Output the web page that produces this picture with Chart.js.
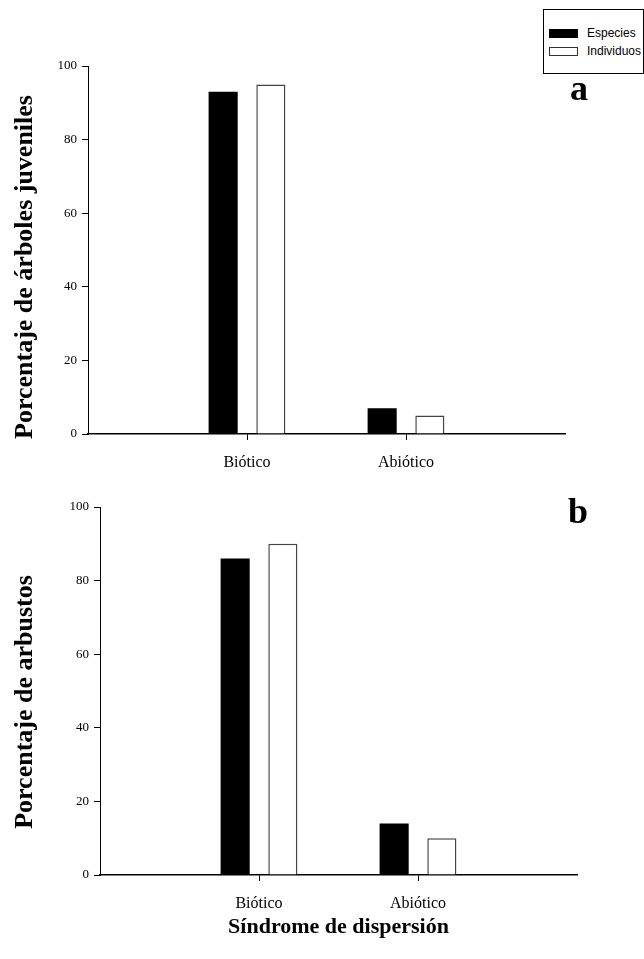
<!DOCTYPE html>
<html>

<head>
    <title>Síndrome de dispersión</title>
    <script src="https://cdn.jsdelivr.net/npm/chart.js@4.4.0/dist/chart.umd.min.js"></script>
    <style>
        body { margin: 0; background: #fff; }
        #page { position: relative; width: 644px; height: 959px; overflow: hidden; }
        canvas { position: absolute; left: 0; }
        #legend {
            position: absolute; left: 543px; top: 9px; width: 99px; height: 63px;
            border: 1px solid #000; background: #fff;
            font-family: "Liberation Sans", Arial, sans-serif; font-size: 12px; color: #000;
        }
        #legend .item { position: absolute; left: 5px; height: 14px; line-height: 14px; white-space: nowrap; }
        #legend .swatch { display: inline-block; width: 29px; height: 9px; vertical-align: middle; margin-right: 9px; box-sizing: border-box; border: 1px solid #333; }
    </style>
    <script>
        // categories and values (%)
        var categories = ['Biótico', 'Abiótico'];
        var seriesNames = ['Especies', 'Individuos'];
        var seriesFill = ['#000', '#fff'];
        var arbolesEspecies = [93, 7];
        var arbolesIndividuos = [95, 5];
        var arbustosEspecies = [86, 14];
        var arbustosIndividuos = [90, 10];
        var yMax = 100;
        var yStep = 20;

        var serif = '"Liberation Serif", "Times New Roman", serif';

        // empty categories at both ends keep the two groups at 1/3 and 2/3 of the axis
        function padded(values) {
            return [null].concat(values, [null]);
        }

        // panel letter and rotated y title, drawn at fixed spots on the canvas
        function decorations(opts) {
            return {
                id: 'decorations',
                afterDraw: function (chart) {
                    var ctx = chart.ctx;
                    ctx.save();
                    ctx.fillStyle = '#000';
                    ctx.font = 'bold 36px ' + serif;
                    ctx.textBaseline = 'alphabetic';
                    ctx.fillText(opts.letter, opts.letterX, opts.letterY);

                    ctx.translate(opts.yTitleX, opts.yTitleY);
                    ctx.rotate(-Math.PI / 2);
                    ctx.font = 'bold 26px ' + serif;
                    ctx.textAlign = 'center';
                    ctx.textBaseline = 'middle';
                    ctx.fillText(opts.yTitle, 0, 0);
                    ctx.restore();
                }
            };
        }

        function makeChart(id, especies, individuos, opts) {
            var xScale = {
                type: 'category',
                offset: false,
                grid: {
                    offset: false,
                    drawOnChartArea: false,
                    tickLength: 6,
                    color: function (ctx) {
                        return (ctx.index === 1 || ctx.index === 2) ? '#000' : 'rgba(0,0,0,0)';
                    }
                },
                border: { color: '#000', width: 1.5 },
                ticks: { color: '#000', font: { family: serif, size: 16 }, padding: 13, maxRotation: 0, autoSkip: false },
                afterFit: function (scale) { scale.height = opts.xHeight; }
            };
            if (opts.xTitle) {
                xScale.title = {
                    display: true, text: opts.xTitle, color: '#000',
                    font: { family: serif, size: 22, weight: 'bold' },
                    padding: { top: 0, bottom: opts.xTitlePad }
                };
            }
            return new Chart(document.getElementById(id).getContext('2d'), {
                type: 'bar',
                data: {
                    labels: [''].concat(categories, ['']),
                    datasets: [{
                        label: seriesNames[0],
                        data: padded(especies),
                        backgroundColor: seriesFill[0],
                        borderWidth: 0
                    }, {
                        label: seriesNames[1],
                        data: padded(individuos),
                        backgroundColor: seriesFill[1],
                        borderColor: '#444',
                        borderWidth: 1.5
                    }]
                },
                options: {
                    responsive: false,
                    animation: false,
                    categoryPercentage: 0.6,
                    barPercentage: 0.61,
                    layout: { padding: opts.padding },
                    plugins: { legend: { display: false }, tooltip: { enabled: false } },
                    scales: {
                        x: xScale,
                        y: {
                            min: 0, max: yMax,
                            ticks: { stepSize: yStep, color: '#000', font: { family: serif, size: 13 }, padding: 5 },
                            grid: { drawOnChartArea: false, tickLength: 6, color: '#000' },
                            border: { color: '#000', width: 1 },
                            afterFit: function (scale) { scale.width = opts.yWidth; }
                        }
                    }
                },
                plugins: [decorations(opts)]
            });
        }

        window.addEventListener('load', function () {
            makeChart('arboles', arbolesEspecies, arbolesIndividuos, {
                yTitle: 'Porcentaje de árboles juveniles', yTitleX: 25, yTitleY: 267,
                padding: { top: 66, right: 79, bottom: 0, left: 0 },
                yWidth: 88, xHeight: 46,
                letter: 'a', letterX: 570, letterY: 100
            });
            makeChart('arbustos', arbustosEspecies, arbustosIndividuos, {
                yTitle: 'Porcentaje de arbustos', yTitleX: 25, yTitleY: 222,
                xTitle: 'Síndrome de dispersión', xTitlePad: 18,
                padding: { top: 27, right: 67, bottom: 0, left: 0 },
                yWidth: 100, xHeight: 84,
                letter: 'b', letterX: 568, letterY: 43
            });

            var legend = document.getElementById('legend');
            seriesNames.forEach(function (name, i) {
                var item = document.createElement('div');
                item.className = 'item';
                item.style.top = (16 + i * 18) + 'px';
                var sw = document.createElement('span');
                sw.className = 'swatch';
                sw.style.background = seriesFill[i];
                if (i === 0) sw.style.borderColor = '#000';
                item.appendChild(sw);
                item.appendChild(document.createTextNode(name));
                legend.appendChild(item);
            });
        });
    </script>
</head>

<body>
    <div id="page">
        <canvas id="arboles" width="644" height="480" style="top:0"></canvas>
        <canvas id="arbustos" width="644" height="479" style="top:480px"></canvas>
        <div id="legend"></div>
    </div>
</body>

</html>
